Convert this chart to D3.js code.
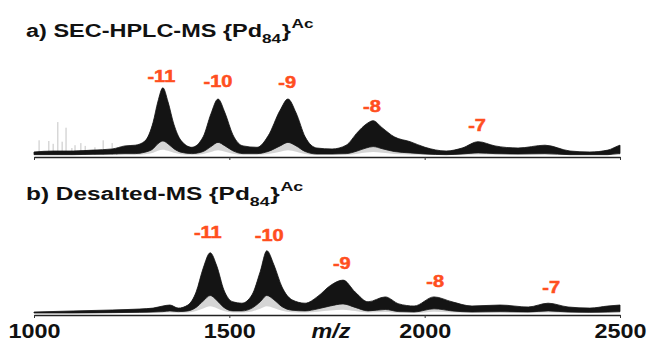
<!DOCTYPE html>
<html>
<head>
<meta charset="utf-8">
<script src="https://cdn.jsdelivr.net/npm/d3@7"></script>
<style>
  body { margin: 0; background: #fff; }
  svg { display: block; font-family: "Liberation Sans", Arial, sans-serif; }
</style>
</head>
<body>
<div id="chart"></div>
<script>
// m/z grid and envelope intensities (upper / lower edge of the dense spectrum band)
const mzA = [1000, 1051, 1100, 1151, 1200, 1233, 1259, 1284, 1305, 1317, 1330, 1343, 1358, 1376, 1404,
  1433, 1453, 1471, 1489, 1509, 1535, 1571, 1599, 1630, 1650, 1671, 1694, 1724, 1763, 1799, 1829,
  1850, 1868, 1891, 1922, 1963, 2001, 2055, 2096, 2137, 2180, 2239, 2308, 2372, 2423, 2469, 2495, 2500];
const upperA = [4.3, 5.7, 5.7, 7, 8.6, 13, 14, 20, 47, 76, 96, 76, 44, 21, 11,
  26, 59, 80, 60, 29, 13, 11, 27, 64, 80, 60, 26, 10, 8.6, 14, 33,
  44, 49, 39, 26, 19, 11, 5.7, 10, 19, 13, 10, 14, 5.7, 4.3, 7, 13, 14];
const lowerA = [0.5, 0.5, 0.5, 1, 1.5, 2, 2, 4, 9, 16, 20, 16, 9, 4, 2,
  5, 12, 18, 13, 6, 2, 2, 5, 13, 18, 13, 5, 1.5, 1.5, 2, 6,
  10, 12, 9, 5, 3, 1.5, 0.5, 1.5, 3, 2, 1.5, 2, 0.5, 0.5, 0.5, 2, 2];
// thin noise spikes at low m/z in panel a
const spikeMzA = [1013, 1038, 1049, 1061, 1072, 1082, 1097, 1105, 1120, 1131, 1156, 1177, 1200, 1212];
const spikeIntA = [21, 20, 16, 47, 19, 39, 10, 14, 17, 13, 11, 21, 17, 10];

const mzB = [1000, 1100, 1200, 1271, 1305, 1330, 1348, 1369, 1394, 1415, 1433, 1451, 1468, 1486, 1509,
  1532, 1558, 1579, 1596, 1614, 1635, 1660, 1694, 1727, 1758, 1791, 1822, 1855, 1899, 1934, 1973,
  2024, 2070, 2121, 2193, 2265, 2316, 2367, 2423, 2469, 2500];
const upperB = [1.4, 2.9, 4.3, 5.7, 7, 10, 11.4, 7, 11.4, 30, 64, 86, 67, 33, 16,
  14, 26, 59, 89, 69, 37, 19, 14, 24, 39, 47, 30, 16, 23, 13, 10,
  23, 16, 10, 11.4, 8.6, 14, 8.6, 7, 10, 11.4];
const lowerB = [0, 0, 0.5, 1, 1.5, 2, 3, 2, 3, 8, 17, 25, 18, 8, 3,
  3, 7, 16, 25, 19, 9, 4, 3, 6, 10, 13, 8, 3, 5, 2, 1.5,
  6, 3, 1.5, 2, 1.5, 3, 1.5, 1, 1.5, 2];

// charge state labels
const chargesA = ["-11", "-10", "-9", "-8", "-7"];
const labelMzA = [1326, 1471, 1648, 1865, 2134];
const labelIntA = [103.6, 97.1, 95.7, 61.9, 34.7];
const chargesB = ["-11", "-10", "-9", "-8", "-7"];
const labelMzB = [1445, 1602, 1788, 2027, 2324];
const labelIntB = [106.7, 102.9, 62.9, 37.1, 28.6];

const tickValues = [1000, 1500, 2000, 2500];

const width = 647, height = 342;
const orange = "#ff4f1f";

const svg = d3.select("#chart").append("svg")
  .attr("width", width)
  .attr("height", height);

const x = d3.scaleLinear().domain([1000, 2500]).range([34, 620]);

function drawTitle(y, prefix, stretch) {
  const g = svg.append("g").attr("transform", "translate(26," + y + ") scale(" + stretch + ",1)");
  const t = g.append("text")
    .attr("font-weight", "bold")
    .attr("font-size", 18.5)
    .attr("fill", "#111");
  t.append("tspan").text(prefix + " {Pd");
  t.append("tspan").attr("font-size", 13.5).attr("dy", 6).text("84");
  t.append("tspan").attr("dy", -6).attr("dx", 0.5).text("}");
  t.append("tspan").attr("font-size", 13.5).attr("dy", -8.5).attr("dx", 0.5).text("Ac");
}

function drawPanel(opts) {
  const y = d3.scaleLinear().domain([0, 100]).range([opts.base, opts.base - 70]);
  const pts = opts.mz.map((m, i) => ({ mz: m, hi: opts.upper[i], lo: opts.lower[i] }));

  // noise spikes
  if (opts.spikeMz) {
    svg.append("g").selectAll("line")
      .data(opts.spikeMz)
      .enter().append("line")
      .attr("x1", d => x(d))
      .attr("x2", d => x(d))
      .attr("y1", y(0))
      .attr("y2", (d, i) => y(opts.spikeInt[i]))
      .attr("stroke", "#c4c4c4")
      .attr("stroke-width", 1);
  }

  // soft grey fringe under the band (the dense scans fade out below)
  const fringe = d3.area()
    .x(d => x(d.mz))
    .y0(d => y(Math.max(d.lo - 0.6 * d.lo - 0.5, 0)))
    .y1(d => y(d.hi))
    .curve(d3.curveMonotoneX);
  svg.append("path").datum(pts)
    .attr("d", fringe)
    .attr("fill", "#888")
    .attr("opacity", 0.35);

  const band = d3.area()
    .x(d => x(d.mz))
    .y0(d => y(d.lo))
    .y1(d => y(d.hi))
    .curve(d3.curveMonotoneX);
  svg.append("path").datum(pts)
    .attr("d", band)
    .attr("fill", "#141414")
    .attr("stroke", "#141414")
    .attr("stroke-width", 0.8);

  // x axis
  const axis = d3.axisBottom(x)
    .tickValues(tickValues)
    .tickSize(3)
    .tickSizeOuter(0)
    .tickPadding(6)
    .tickFormat(opts.labels ? d3.format("d") : "");
  const ag = svg.append("g")
    .attr("transform", "translate(0," + opts.axisY + ")")
    .call(axis);
  ag.select(".domain").attr("stroke", "#222").attr("stroke-width", 1.6);
  ag.selectAll(".tick line").attr("stroke", "#333").attr("stroke-width", 1);
  ag.selectAll(".tick text")
    .attr("font-family", "'Liberation Sans', Arial, sans-serif")
    .attr("font-size", 20)
    .attr("font-weight", "bold")
    .attr("fill", "#111")
    .attr("transform", "scale(1.17,1)");

  // charge labels
  svg.append("g").selectAll("g")
    .data(opts.charges)
    .enter().append("g")
    .attr("transform", (d, i) => "translate(" + x(opts.labelMz[i]) + "," + y(opts.labelInt[i]) + ") scale(1.25,1)")
    .append("text")
    .attr("text-anchor", "middle")
    .attr("font-family", "'Liberation Sans', Arial, sans-serif")
    .attr("font-size", 16)
    .attr("font-weight", "bold")
    .attr("fill", orange)
    .attr("stroke", orange)
    .attr("stroke-width", 0.5)
    .text(d => d);
}

drawTitle(36.5, "a) SEC-HPLC-MS", 1.27);
drawPanel({
  mz: mzA, upper: upperA, lower: lowerA,
  spikeMz: spikeMzA, spikeInt: spikeIntA,
  charges: chargesA, labelMz: labelMzA, labelInt: labelIntA,
  base: 155, axisY: 157, labels: false
});

drawTitle(199.5, "b) Desalted-MS", 1.32);
drawPanel({
  mz: mzB, upper: upperB, lower: lowerB,
  charges: chargesB, labelMz: labelMzB, labelInt: labelIntB,
  base: 313, axisY: 315, labels: true
});

// axis title
svg.append("g")
  .attr("transform", "translate(331,338) scale(1.17,1)")
  .append("text")
  .attr("text-anchor", "middle")
  .attr("font-size", 20)
  .attr("font-weight", "bold")
  .attr("font-style", "italic")
  .attr("fill", "#111")
  .text("m/z");
</script>
</body>
</html>
